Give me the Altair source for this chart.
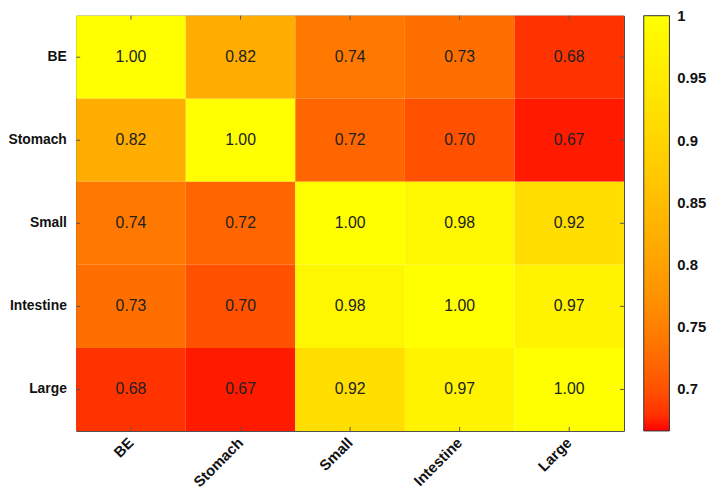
import altair as alt
import pandas as pd

labels = ["BE", "Stomach", "Small", "Intestine", "Large"]
row_be = [1.00, 0.82, 0.74, 0.73, 0.68]
row_stomach = [0.82, 1.00, 0.72, 0.70, 0.67]
row_small = [0.74, 0.72, 1.00, 0.98, 0.92]
row_intestine = [0.73, 0.70, 0.98, 1.00, 0.97]
row_large = [0.68, 0.67, 0.92, 0.97, 1.00]
matrix = [row_be, row_stomach, row_small, row_intestine, row_large]
legend_ticks = [0.7, 0.75, 0.8, 0.85, 0.9, 0.95, 1.0]
color_domain = [0.6665, 1.0005]

records = []
for i, r in enumerate(labels):
    for j, c in enumerate(labels):
        records.append({"row": r, "col": c, "value": matrix[i][j]})
df = pd.DataFrame(records)
cats = pd.DataFrame({"cat": labels})

FONT = "Liberation Sans"
W, H = 554, 420
TICK = 4
TICK_COLOR = "#555"

xscale = alt.Scale(domain=labels)
yscale = alt.Scale(domain=labels)

base = alt.Chart(df).encode(
    x=alt.X("col:N", sort=labels, title=None, scale=xscale,
            axis=alt.Axis(labelAngle=-45, labelAlign="right", labelBaseline="middle",
                          labelFontSize=15, labelFontWeight="bold", labelFont=FONT,
                          labelColor="#111", labelPadding=9, ticks=False, domain=False)),
    y=alt.Y("row:N", sort=labels, title=None, scale=yscale,
            axis=alt.Axis(labelFontSize=14, labelFontWeight="bold", labelFont=FONT,
                          labelColor="#111", labelPadding=10, ticks=False, domain=False)),
)

rect = base.mark_rect().encode(
    color=alt.Color(
        "value:Q",
        title=None,
        scale=alt.Scale(domain=color_domain, range=["#ff0000", "#ffff00"],
                        interpolate=alt.ScaleInterpolateParams(type="rgb", gamma=2)),
        legend=alt.Legend(orient="none", legendX=574, legendY=0, direction="vertical",
                          gradientLength=H, gradientThickness=26,
                          gradientStrokeColor="#333", gradientStrokeWidth=1,
                          values=legend_ticks,
                          labelExpr="format(datum.value, '.2~f')",
                          labelFontSize=15, labelFontWeight="bold", labelFont=FONT,
                          labelColor="#111", labelOffset=8, labelOverlap=False,
                          labelBaseline="middle"),
    )
)

text = base.mark_text(fontSize=16, font=FONT, color="#222").encode(
    text=alt.Text("value:Q", format=".2f")
)

xt = alt.Chart(cats).encode(x=alt.X("cat:N", sort=labels, scale=xscale, title=None))
yt = alt.Chart(cats).encode(y=alt.Y("cat:N", sort=labels, scale=yscale, title=None))
tick_top = xt.mark_rule(color=TICK_COLOR).encode(y=alt.value(0), y2=alt.value(TICK))
tick_bottom = xt.mark_rule(color=TICK_COLOR).encode(y=alt.value(H - TICK), y2=alt.value(H))
tick_left = yt.mark_rule(color=TICK_COLOR).encode(x=alt.value(0), x2=alt.value(TICK))
tick_right = yt.mark_rule(color=TICK_COLOR).encode(x=alt.value(W - TICK), x2=alt.value(W))

chart = alt.layer(rect, text, tick_top, tick_bottom, tick_left, tick_right).properties(
    width=W, height=H,
    padding={"left": 69, "top": 5, "right": 86, "bottom": 62},
    autosize=alt.AutoSizeParams(type="none"),
).configure_view(stroke="#444", strokeWidth=1)

chart.save("out.html", embed_options={"renderer": "svg", "actions": False})
